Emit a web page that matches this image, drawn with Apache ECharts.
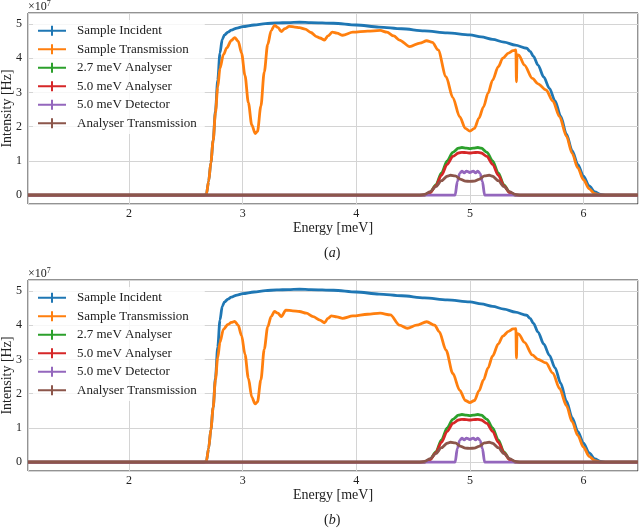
<!DOCTYPE html>
<html>
<head>
<meta charset="utf-8">
<script src="https://cdn.jsdelivr.net/npm/echarts@6/dist/echarts.min.js"></script>
<style>
  html, body { margin: 0; background: #fff; }
  #chart { width: 640px; height: 530px; }
</style>
</head>
<body>
<div id="chart"></div>
<script>
const names = ['Sample Incident', 'Sample Transmission', '2.7 meV Analyser', '5.0 meV Analyser', '5.0 meV Detector', 'Analyser Transmission']
const colors = ['#1f77b4', '#ff7f0e', '#2ca02c', '#d62728', '#9467bd', '#8c564b']

// energy [meV], intensity [1e7 Hz]
const incident = [[1.11, 0], [2.66, 0], [2.68, 0.02], [2.70, 0.4], [2.72, 0.95], [2.74, 1.6], [2.76, 2.45], [2.78, 3.35], [2.80, 4.15], [2.82, 4.55], [2.84, 4.68], [2.87, 4.76], [2.9, 4.82], [2.95, 4.88], [3.0, 4.92], [3.1, 4.97], [3.2, 5.01], [3.3, 5.03], [3.4, 5.04], [3.5, 5.05], [3.6, 5.04], [3.8, 5.02], [4.0, 4.97], [4.2, 4.91], [4.4, 4.86], [4.6, 4.8], [4.8, 4.74], [5.0, 4.68], [5.1, 4.62], [5.2, 4.55], [5.3, 4.47], [5.4, 4.38], [5.5, 4.29], [5.53, 4.2], [5.56, 4.05], [5.6, 3.8], [5.65, 3.45], [5.7, 3.12], [5.75, 2.75], [5.8, 2.3], [5.85, 1.78], [5.9, 1.3], [5.95, 0.9], [6.0, 0.55], [6.05, 0.27], [6.1, 0.09], [6.15, 0.02], [6.2, 0], [6.48, 0]]

const transmissionA = [[1.11, 0], [2.66, 0], [2.68, 0.02], [2.70, 0.4], [2.72, 0.95], [2.74, 1.6], [2.76, 2.4], [2.78, 3.15], [2.80, 3.7], [2.83, 4.1], [2.86, 4.3], [2.9, 4.52], [2.93, 4.6], [2.96, 4.5], [2.99, 4.15], [3.02, 3.5], [3.05, 2.7], [3.08, 2.05], [3.11, 1.8], [3.13, 1.86], [3.16, 2.6], [3.19, 3.6], [3.22, 4.4], [3.25, 4.8], [3.28, 4.96], [3.31, 4.9], [3.34, 4.78], [3.37, 4.86], [3.41, 4.93], [3.46, 4.91], [3.5, 4.89], [3.55, 4.85], [3.6, 4.75], [3.65, 4.63], [3.68, 4.59], [3.72, 4.53], [3.75, 4.65], [3.79, 4.76], [3.83, 4.73], [3.88, 4.67], [3.97, 4.76], [4.1, 4.79], [4.21, 4.81], [4.27, 4.76], [4.33, 4.65], [4.38, 4.53], [4.47, 4.34], [4.56, 4.44], [4.62, 4.51], [4.67, 4.46], [4.72, 4.24], [4.79, 3.46], [4.85, 2.85], [4.91, 2.29], [4.96, 1.95], [5.0, 1.87], [5.04, 1.95], [5.08, 2.25], [5.12, 2.58], [5.16, 2.98], [5.2, 3.36], [5.25, 3.75], [5.29, 4.0], [5.34, 4.15], [5.38, 4.22], [5.405, 4.24], [5.41, 3.31], [5.415, 4.1], [5.43, 4.09], [5.48, 3.8], [5.55, 3.41], [5.6, 3.25], [5.67, 3.07], [5.73, 2.75], [5.79, 2.29], [5.85, 1.72], [5.9, 1.22], [5.95, 0.8], [6.0, 0.45], [6.05, 0.18], [6.1, 0.04], [6.15, 0], [6.48, 0]]

const transmissionB = [[1.11, 0], [2.66, 0], [2.68, 0.02], [2.70, 0.4], [2.72, 0.95], [2.74, 1.6], [2.76, 2.4], [2.78, 3.05], [2.80, 3.5], [2.83, 3.88], [2.87, 4.02], [2.9, 4.08], [2.93, 4.11], [2.96, 4.0], [2.99, 3.7], [3.02, 3.15], [3.05, 2.45], [3.08, 1.9], [3.11, 1.7], [3.13, 1.76], [3.16, 2.4], [3.19, 3.3], [3.22, 3.95], [3.25, 4.25], [3.28, 4.4], [3.31, 4.35], [3.34, 4.25], [3.38, 4.44], [3.44, 4.42], [3.5, 4.4], [3.56, 4.35], [3.62, 4.25], [3.68, 4.15], [3.72, 4.07], [3.75, 4.2], [3.78, 4.27], [3.83, 4.24], [3.88, 4.2], [3.97, 4.27], [4.1, 4.32], [4.21, 4.35], [4.3, 4.3], [4.38, 4.0], [4.45, 3.91], [4.53, 4.0], [4.62, 4.1], [4.69, 4.0], [4.73, 3.81], [4.79, 3.27], [4.85, 2.59], [4.91, 2.1], [4.96, 1.8], [5.0, 1.74], [5.04, 1.8], [5.08, 2.08], [5.12, 2.4], [5.16, 2.75], [5.2, 3.1], [5.25, 3.45], [5.29, 3.68], [5.34, 3.82], [5.38, 3.89], [5.405, 3.9], [5.41, 3.04], [5.415, 3.76], [5.43, 3.74], [5.48, 3.5], [5.55, 3.13], [5.6, 3.0], [5.67, 2.9], [5.73, 2.6], [5.79, 2.15], [5.85, 1.65], [5.9, 1.18], [5.95, 0.78], [6.0, 0.44], [6.05, 0.17], [6.1, 0.04], [6.15, 0], [6.48, 0]]

const analyser27 = [[1.11, 0], [4.6, 0], [4.65, 0.08], [4.7, 0.3], [4.75, 0.65], [4.8, 1.0], [4.85, 1.25], [4.9, 1.37], [4.93, 1.39], [4.97, 1.37], [5.0, 1.36], [5.03, 1.37], [5.07, 1.39], [5.1, 1.37], [5.15, 1.25], [5.2, 1.0], [5.25, 0.65], [5.3, 0.3], [5.35, 0.08], [5.4, 0], [6.48, 0]]

const analyser50 = [[1.11, 0], [4.6, 0], [4.65, 0.07], [4.7, 0.27], [4.75, 0.58], [4.8, 0.9], [4.85, 1.13], [4.9, 1.23], [4.93, 1.25], [4.97, 1.24], [5.0, 1.23], [5.03, 1.24], [5.07, 1.25], [5.1, 1.23], [5.15, 1.13], [5.2, 0.9], [5.25, 0.58], [5.3, 0.27], [5.35, 0.07], [5.4, 0], [6.48, 0]]

const detector50 = [[1.11, 0], [4.87, 0], [4.89, 0.4], [4.91, 0.63], [4.93, 0.7], [4.95, 0.65], [4.97, 0.7], [5.0, 0.66], [5.03, 0.7], [5.05, 0.65], [5.07, 0.7], [5.09, 0.63], [5.11, 0.4], [5.13, 0], [6.48, 0]]

const analyserTrans = [[1.11, 0], [4.55, 0], [4.6, 0.02], [4.65, 0.1], [4.7, 0.25], [4.75, 0.42], [4.8, 0.55], [4.83, 0.58], [4.87, 0.56], [4.92, 0.46], [4.96, 0.41], [5.0, 0.4], [5.04, 0.41], [5.08, 0.46], [5.13, 0.56], [5.17, 0.58], [5.2, 0.55], [5.25, 0.42], [5.3, 0.25], [5.35, 0.1], [5.4, 0.02], [5.45, 0], [6.48, 0]]

const panels = [
  [incident, transmissionA, analyser27, analyser50, detector50, analyserTrans],
  [incident, transmissionB, analyser27, analyser50, detector50, analyserTrans]
]

const font = 'Liberation Serif'
const gridTops = [13, 280]
const plotHeight = 191

const chart = echarts.init(document.getElementById('chart'))

const xAxis = gridTops.map((t, i) => ({
  type: 'value',
  gridIndex: i,
  min: 1.11,
  max: 6.48,
  splitNumber: 5,
  name: 'Energy [meV]',
  nameLocation: 'middle',
  nameGap: 17,
  nameMoveOverlap: false,
  nameTextStyle: { fontFamily: font, fontSize: 14, color: '#222' },
  axisLine: { show: false },
  axisTick: { show: false },
  axisLabel: { fontFamily: font, fontSize: 12, color: '#222', margin: 4, showMinLabel: false, showMaxLabel: false },
  splitLine: { lineStyle: { color: '#d4d4d4', width: 1 } }
}))

const yAxis = gridTops.map((t, i) => ({
  type: 'value',
  gridIndex: i,
  min: -0.26,
  max: 5.32,
  splitNumber: 5,
  name: 'Intensity [Hz]',
  nameLocation: 'middle',
  nameGap: 14,
  nameMoveOverlap: false,
  nameTextStyle: { fontFamily: font, fontSize: 14, color: '#222' },
  axisLine: { show: false },
  axisTick: { show: false },
  axisLabel: { fontFamily: font, fontSize: 12, color: '#222', margin: 6, showMinLabel: false, showMaxLabel: false },
  splitLine: { lineStyle: { color: '#d4d4d4', width: 1 } }
}))

const series = []
panels.forEach((sets, p) => {
  sets.forEach((d, i) => {
    series.push({
      name: names[i],
      type: 'line',
      xAxisIndex: p,
      yAxisIndex: p,
      data: d,
      smooth: 0.3,
      smoothMonotone: 'x',
      showSymbol: false,
      color: colors[i],
      lineStyle: { width: 2.8, color: colors[i] },
      z: 2 + i
    })
  })
})

const crossIcon = 'path://M0,4 L28,4 L28,6 L0,6 Z M13,0 L15,0 L15,10 L13,10 Z'

const legend = gridTops.map((t) => ({
  orient: 'vertical',
  left: 33,
  top: t + 7,
  data: names,
  icon: crossIcon,
  itemWidth: 28,
  itemHeight: 10,
  itemGap: 5,
  padding: [4, 8, 4, 5],
  backgroundColor: 'rgba(255,255,255,0.8)',
  borderRadius: 3,
  itemStyle: { borderWidth: 0 },
  textStyle: { fontFamily: font, fontSize: 13, color: '#222', lineHeight: 13.5, padding: [0, 0, 0, 6] }
}))

const sub = (txt, top) => ({
  text: txt,
  left: 324,
  top: top,
  padding: 0,
  textStyle: {
    fontFamily: font, fontSize: 14, fontWeight: 'normal', color: '#222',
    rich: { i: { fontFamily: font, fontSize: 14, fontStyle: 'italic', color: '#222' } }
  }
})

const scale = (top) => ({
  text: '×10{s|7}',
  left: 28,
  top: top,
  padding: 0,
  textStyle: {
    fontFamily: font, fontSize: 12, fontWeight: 'normal', color: '#222', lineHeight: 13,
    rich: { s: { fontFamily: font, fontSize: 8, color: '#222', verticalAlign: 'top', lineHeight: 13 } }
  }
})

chart.setOption({
  animation: false,
  backgroundColor: '#fff',
  title: [sub('({i|a})', 246), sub('({i|b})', 513), scale(0), scale(267)],
  legend: legend,
  grid: gridTops.map((t) => ({
    left: 28, top: t, width: 610, height: plotHeight,
    containLabel: false, outerBoundsMode: 'none',
    show: true, borderColor: '#262626', borderWidth: 1, backgroundColor: 'transparent'
  })),
  xAxis: xAxis,
  yAxis: yAxis,
  series: series
})
</script>
</body>
</html>
